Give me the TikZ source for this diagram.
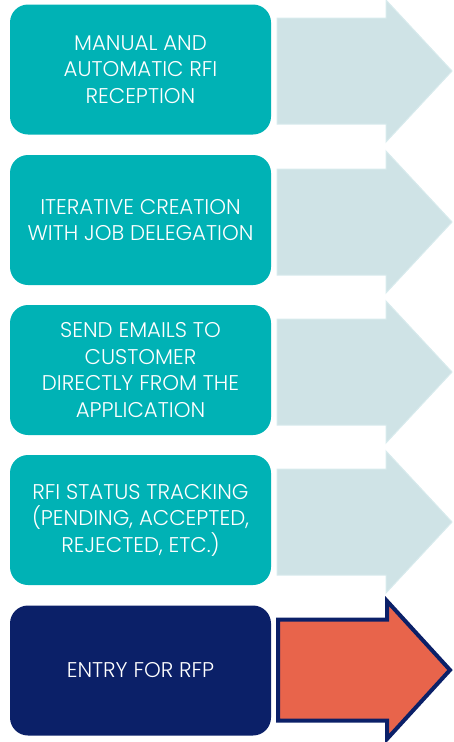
\documentclass[tikz,border=0pt]{standalone}
\usepackage{fontspec}
\setmainfont{Poppins}[UprightFont=* Light]
\definecolor{teal1}{HTML}{00B2B5}
\definecolor{navy1}{HTML}{0B2068}
\definecolor{lightarrow}{HTML}{CFE3E6}
\definecolor{lightedge}{HTML}{D8EBED}
\definecolor{orange1}{HTML}{E8644B}
\tikzset{
  box/.style={rectangle, rounded corners=18pt, minimum width=261pt, minimum height=130pt,
    inner sep=0pt, text=white, align=center, font=\fontsize{21.3}{26.5}\selectfont},
  tealbox/.style={box, fill=teal1},
  navybox/.style={box, fill=navy1},
  lightarr/.style={fill=lightarrow, draw=lightedge, line width=1pt, line join=miter},
  hotarr/.style={fill=orange1, draw=navy1, line width=4pt, line join=miter}
}
% #1 style, #2 center y, #3 body half, #4 head half, #5 tail x, #6 head base x, #7 tip x
\newcommand{\bigarrowpath}[7]{%
  \path[#1] (#5,#2+#3) -- (#6,#2+#3) -- (#6,#2+#4) -- (#7,#2) -- (#6,#2-#4) -- (#6,#2-#3) -- (#5,#2-#3) -- cycle;}
\begin{document}
\begin{tikzpicture}[x=1pt,y=1pt]
\useasboundingbox (0,0) rectangle (454,-742);
% arrows (behind the boxes)
\coordinate (a1) at (277,-71);
\coordinate (a2) at (277,-222);
\coordinate (a3) at (277,-372);
\coordinate (a4) at (277,-522);
\coordinate (a5) at (278,-670);
\bigarrowpath{lightarr}{-71}{53}{71}{277}{386}{452}
\bigarrowpath{lightarr}{-222}{53}{71}{277}{386}{452}
\bigarrowpath{lightarr}{-372}{53}{71}{277}{386}{452}
\bigarrowpath{lightarr}{-522}{53}{71}{277}{386}{452}
\bigarrowpath{hotarr}{-670}{50.5}{69}{278}{387}{450}
% boxes
\node[tealbox] (b1) at (140.5,-69.5) {MANUAL AND\\AUTOMATIC RFI\\RECEPTION};
\node[tealbox] (b2) at (140.5,-220) {ITERATIVE CREATION\\WITH JOB DELEGATION};
\node[tealbox] (b3) at (140.5,-370) {SEND EMAILS TO\\CUSTOMER\\DIRECTLY FROM THE\\APPLICATION};
\node[tealbox] (b4) at (140.5,-520) {RFI STATUS TRACKING\\(PENDING, ACCEPTED,\\REJECTED, ETC.)};
\node[navybox] (b5) at (140.5,-670.5) {ENTRY FOR RFP};
\end{tikzpicture}
\end{document}
